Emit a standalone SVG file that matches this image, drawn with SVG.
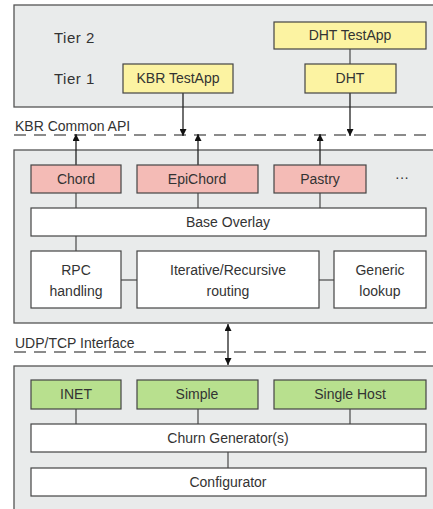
<svg xmlns="http://www.w3.org/2000/svg" width="433" height="509" viewBox="0 0 433 509">
<defs>
<style>
.panel{fill:#e9ebeb;stroke:#555;stroke-width:1.3}
.box{stroke:#444;stroke-width:1.2}
.y{fill:#fcf3a2}.p{fill:#f4bbb6}.g{fill:#b8e08e}.w{fill:#fff}
text{font-family:"Liberation Sans",Arial,sans-serif;font-size:14px;fill:#333;text-anchor:middle}
.l{text-anchor:start}
.t{font-size:15px;letter-spacing:0.5px}
.ln{stroke:#555;stroke-width:1.3;fill:none}
.ar{stroke:#222;stroke-width:1.3;fill:none}
.dash{stroke:#666;stroke-width:1.6;stroke-dasharray:12 8;fill:none}
</style>
<marker id="ah" viewBox="0 0 10 10" refX="10" refY="5" markerWidth="7" markerHeight="7" orient="auto-start-reverse" markerUnits="userSpaceOnUse">
<path d="M0,0 L10,5 L0,10 z" fill="#111"/>
</marker>
</defs>
<rect class="panel" x="14" y="5" width="430" height="102"/>
<rect class="panel" x="14" y="150" width="430" height="173"/>
<rect class="panel" x="14" y="366" width="430" height="160"/>
<line class="dash" x1="14" y1="135" x2="433" y2="135"/>
<line class="dash" x1="14" y1="352" x2="433" y2="352"/>
<text class="l" x="15" y="131">KBR Common API</text>
<text class="l" x="15" y="348">UDP/TCP Interface</text>
<text class="l t" x="54" y="43">Tier 2</text>
<text class="l t" x="54" y="84">Tier 1</text>
<g id="connectors">
<line class="ln" x1="350" y1="49" x2="350" y2="64"/>
<line class="ar" x1="183" y1="93" x2="183" y2="136" marker-end="url(#ah)"/>
<line class="ar" x1="350" y1="93" x2="350" y2="136" marker-end="url(#ah)"/>
<line class="ar" x1="76" y1="165" x2="76" y2="134" marker-end="url(#ah)"/>
<line class="ar" x1="198" y1="165" x2="198" y2="134" marker-end="url(#ah)"/>
<line class="ar" x1="320" y1="165" x2="320" y2="134" marker-end="url(#ah)"/>
<line class="ln" x1="76" y1="193" x2="76" y2="208"/>
<line class="ln" x1="198" y1="193" x2="198" y2="208"/>
<line class="ln" x1="320" y1="193" x2="320" y2="208"/>
<line class="ln" x1="76" y1="236" x2="76" y2="251"/>
<line class="ln" x1="121" y1="280" x2="137" y2="280"/>
<line class="ln" x1="319" y1="280" x2="334" y2="280"/>
<line class="ar" x1="228" y1="324" x2="228" y2="365" marker-start="url(#ah)" marker-end="url(#ah)"/>
<line class="ln" x1="76" y1="409" x2="76" y2="424"/>
<line class="ln" x1="198" y1="409" x2="198" y2="424"/>
<line class="ln" x1="350" y1="409" x2="350" y2="424"/>
<line class="ln" x1="228" y1="452" x2="228" y2="468"/>
</g>
<g id="dht-testapp"><rect class="box y" x="274" y="22" width="152" height="27"/><text x="350" y="40">DHT TestApp</text></g>
<g id="kbr-testapp"><rect class="box y" x="123" y="64" width="110" height="29"/><text x="178" y="83">KBR TestApp</text></g>
<g id="dht"><rect class="box y" x="305" y="64" width="91" height="29"/><text x="350" y="83">DHT</text></g>
<g id="chord"><rect class="box p" x="31" y="165" width="90" height="28"/><text x="76" y="184">Chord</text></g>
<g id="epichord"><rect class="box p" x="137" y="165" width="121" height="28"/><text x="197" y="184">EpiChord</text></g>
<g id="pastry"><rect class="box p" x="274" y="165" width="92" height="28"/><text x="320" y="184">Pastry</text></g>
<text x="402" y="182">···</text>
<g id="base-overlay"><rect class="box w" x="31" y="208" width="395" height="28"/><text x="228" y="227">Base Overlay</text></g>
<g id="rpc"><rect class="box w" x="31" y="251" width="90" height="57"/><text x="76" y="275">RPC</text><text x="76" y="296">handling</text></g>
<g id="routing"><rect class="box w" x="137" y="251" width="182" height="57"/><text x="228" y="275">Iterative/Recursive</text><text x="228" y="296">routing</text></g>
<g id="lookup"><rect class="box w" x="334" y="251" width="92" height="57"/><text x="380" y="275">Generic</text><text x="380" y="296">lookup</text></g>
<g id="inet"><rect class="box g" x="31" y="380" width="90" height="29"/><text x="76" y="399">INET</text></g>
<g id="simple"><rect class="box g" x="137" y="380" width="121" height="29"/><text x="197" y="399">Simple</text></g>
<g id="single-host"><rect class="box g" x="274" y="380" width="152" height="29"/><text x="350" y="399">Single Host</text></g>
<g id="churn"><rect class="box w" x="31" y="424" width="395" height="28"/><text x="228" y="443">Churn Generator(s)</text></g>
<g id="configurator"><rect class="box w" x="31" y="468" width="395" height="28"/><text x="228" y="487">Configurator</text></g>
</svg>
